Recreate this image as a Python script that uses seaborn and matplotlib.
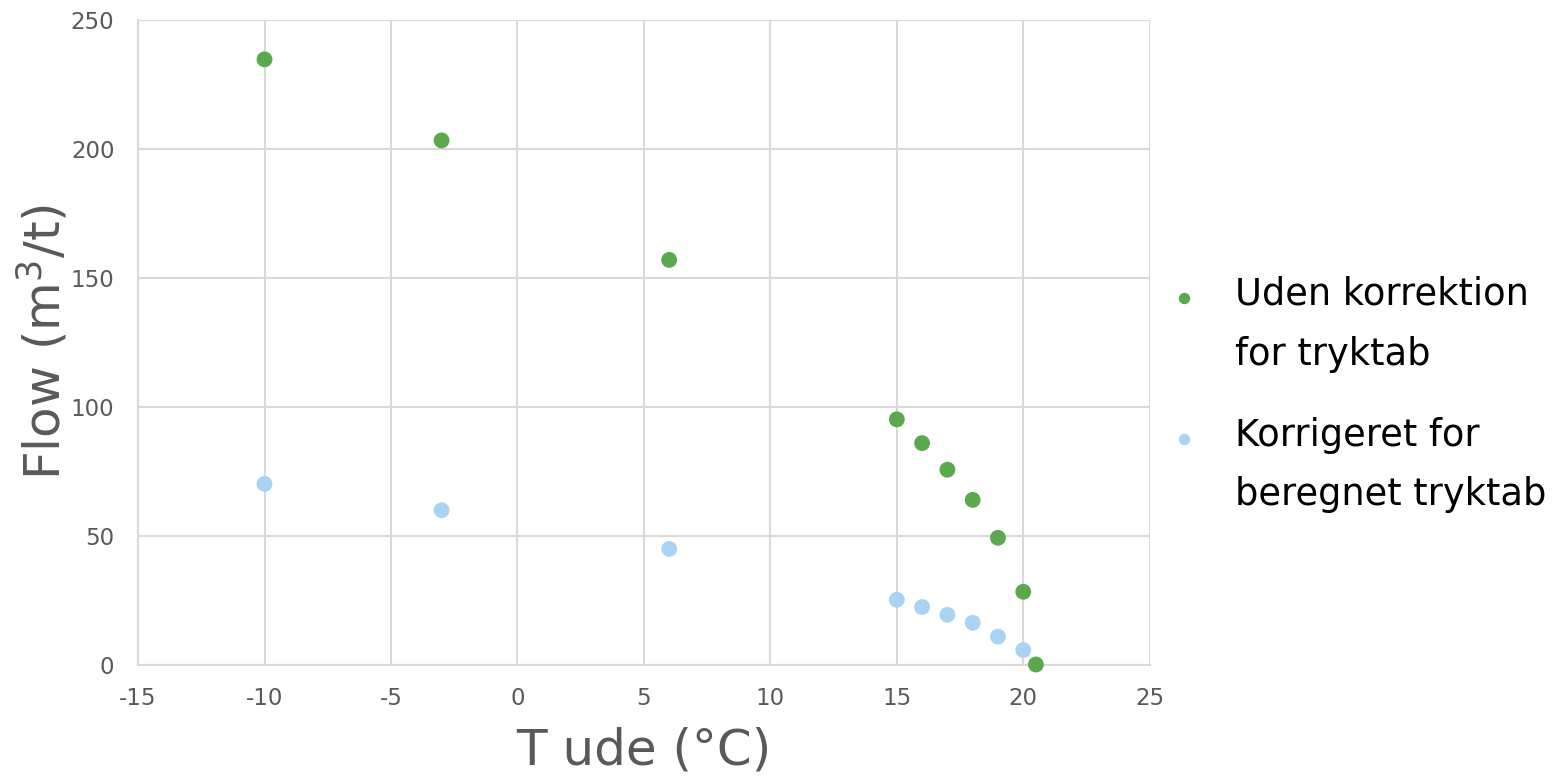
import numpy as np
import pandas as pd
import matplotlib
matplotlib.use("Agg")
import matplotlib.pyplot as plt
from matplotlib.lines import Line2D
from matplotlib.legend_handler import HandlerLine2D
import seaborn as sns

# Data
t_green = [-10, -3, 6, 15, 16, 17, 18, 19, 20, 20.5]
flow_green = [234.7, 203.3, 157.0, 95.2, 86.0, 75.7, 64.0, 49.3, 28.4, 0.2]
t_blue = [-10, -3, 6, 15, 16, 17, 18, 19, 20]
flow_blue = [70.2, 60.0, 45.0, 25.3, 22.5, 19.5, 16.4, 11.0, 5.8]
series_names = ["Uden korrektion\nfor tryktab", "Korrigeret for\nberegnet tryktab"]
x_ticks = [-15, -10, -5, 0, 5, 10, 15, 20, 25]
y_ticks = [0, 50, 100, 150, 200, 250]

df = pd.concat([
    pd.DataFrame({"T": t_green, "Flow": flow_green, "Serie": series_names[0]}),
    pd.DataFrame({"T": t_blue, "Flow": flow_blue, "Serie": series_names[1]}),
], ignore_index=True)

sns.set_theme(style="white")
plt.rcParams['font.family'] = ['DejaVu Sans']
plt.rcParams['axes.unicode_minus'] = False

fig = plt.figure(figsize=(15.6, 7.78), dpi=100)
ax = fig.add_axes([0.0885, 0.1452, 0.6485, 0.8292])

palette = {series_names[0]: "#5BA84E", series_names[1]: "#A8D3F5"}
sns.scatterplot(data=df, x="T", y="Flow", hue="Serie", palette=palette,
                s=130, edgecolor="none", ax=ax, zorder=3, clip_on=False)

ax.set_xlim(-15, 25)
ax.set_ylim(0, 250)
ax.set_xticks(x_ticks)
ax.set_yticks(y_ticks)
ax.grid(True, color="#D9D9D9", linewidth=1.5)
ax.set_axisbelow(True)
for sp in ax.spines.values():
    sp.set_visible(False)
ax.spines['left'].set_visible(True)
ax.spines['bottom'].set_visible(True)
ax.spines['left'].set_color("#D9D9D9")
ax.spines['bottom'].set_color("#D9D9D9")
ax.spines['left'].set_linewidth(1.5)
ax.spines['bottom'].set_linewidth(1.5)
ax.tick_params(axis='y', length=0, labelsize=16.5, labelcolor="#595959", pad=17)
ax.tick_params(axis='x', length=0, labelsize=16.5, labelcolor="#595959", pad=16)

ax.set_xlabel("T ude (°C)", fontsize=36, color="#595959", labelpad=12)
ax.set_ylabel("Flow (m$^3$/t)", fontsize=36, color="#595959", labelpad=0)


class UpHandler(HandlerLine2D):
    def __init__(self, dy, **kw):
        super().__init__(**kw)
        self.dy = dy

    def create_artists(self, legend, orig_handle, xdescent, ydescent, width,
                       height, fontsize, trans):
        arts = super().create_artists(legend, orig_handle, xdescent, ydescent,
                                      width, height, fontsize, trans)
        for a in arts:
            a.set_ydata(np.asarray(a.get_ydata(), dtype=float) + self.dy)
        return arts


handles, labels = ax.get_legend_handles_labels()
leg = ax.legend(handles, labels, loc="upper left",
                bbox_to_anchor=(1167 / 1560, 1 - 276 / 778),
                bbox_transform=fig.transFigure, frameon=False,
                fontsize=26.5, markerscale=0.72, handlelength=0.95, handletextpad=0.9,
                labelspacing=1.2, borderpad=0, borderaxespad=0,
                handler_map={Line2D: UpHandler(dy=20)})
for txt in leg.get_texts():
    txt.set_color("#000000")
    txt.set_linespacing(1.78)

fig.savefig("out.png", dpi=100)
